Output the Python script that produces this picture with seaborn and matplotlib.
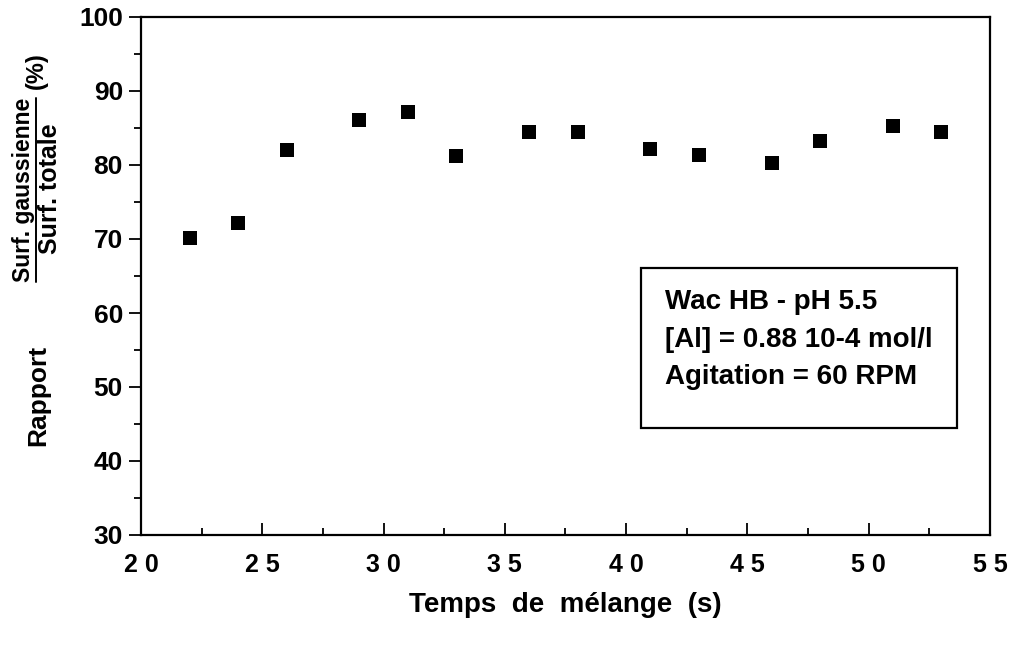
import matplotlib
matplotlib.use("Agg")
import matplotlib.pyplot as plt
import matplotlib.ticker as mticker
from matplotlib.lines import Line2D
from matplotlib.patches import Rectangle
import seaborn as sns
import pandas as pd

# --- Data ---
temps = [22, 24, 26, 29, 31, 33, 36, 38, 41, 43, 46, 48, 51, 53]
rapport = [70.2, 72.1, 82.0, 86.1, 87.1, 81.2, 84.4, 84.4, 82.2, 81.3, 80.3, 83.2, 85.3, 84.4]

df = pd.DataFrame({"Temps": temps, "Rapport": rapport})

sns.set_style("ticks")
plt.rcParams["font.family"] = ["Liberation Sans", "DejaVu Sans"]
plt.rcParams["font.weight"] = "bold"
for k in ["text.color", "axes.labelcolor", "xtick.color", "ytick.color", "axes.edgecolor"]:
    plt.rcParams[k] = "black"

W, H = 1012, 646
fig = plt.figure(figsize=(W / 100, H / 100), dpi=100)
ax = fig.add_axes([141 / W, 1 - 535 / H, (990 - 141) / W, (535 - 17) / H])

sns.scatterplot(data=df, x="Temps", y="Rapport", ax=ax, marker="s", s=95,
                color="black", linewidth=0, legend=False)

ax.set_xlim(20, 55)
ax.set_ylim(30, 100)
ax.xaxis.set_major_locator(mticker.MultipleLocator(5))
ax.xaxis.set_minor_locator(mticker.MultipleLocator(2.5))
ax.yaxis.set_major_locator(mticker.MultipleLocator(10))
ax.yaxis.set_minor_locator(mticker.MultipleLocator(5))
# spaced digits like the typewriter-style axis of the original
ax.xaxis.set_major_formatter(mticker.FuncFormatter(lambda v, p: " ".join(str(int(v)))))

for s in ax.spines.values():
    s.set_linewidth(1.6)
    s.set_color("black")

ax.tick_params(axis="x", which="major", direction="in", length=9, width=1.3,
               labelsize=18, pad=13)
ax.tick_params(axis="x", which="minor", direction="in", length=5, width=1.3)
ax.tick_params(axis="y", which="major", direction="out", length=9, width=1.3,
               labelsize=19, pad=4)
ax.tick_params(axis="y", which="minor", direction="out", length=5, width=1.3)
for lab in ax.get_xticklabels() + ax.get_yticklabels():
    lab.set_fontweight("bold")

ax.set_xlabel("")
ax.set_ylabel("")

# x label
fig.text(565 / W, 1 - 605 / H, "Temps  de  mélange  (s)", ha="center", va="center",
         fontsize=20, fontweight="bold")

# y label: Rapport  Surf. gaussienne / Surf. totale  (%)
fig.text(38 / W, 1 - 395 / H, "Rapport", rotation=90, ha="center", va="center",
         fontsize=19, fontweight="bold")
num = fig.text(24 / W, 1 - 190 / H, "Surf. gaussienne", rotation=90, ha="center",
               va="center", fontsize=16.5, fontweight="bold")
fig.text(50 / W, 1 - 189 / H, "Surf. totale", rotation=90, ha="center", va="center",
         fontsize=18, fontweight="bold")
fig.text(36 / W, 1 - 71 / H, "(%)", rotation=90, ha="center", va="center",
         fontsize=17, fontweight="bold")

fig.canvas.draw()
bb = num.get_window_extent()
fig.add_artist(Line2D([(bb.x1 + 1) / W] * 2, [bb.y0 / H, bb.y1 / H],
                      color="black", linewidth=1.4, transform=fig.transFigure))

# annotation box (frame drawn separately: the original has more room below the text)
ax.add_patch(Rectangle((0.589, 0.207), 0.372, 0.309, transform=ax.transAxes,
                       facecolor="white", edgecolor="black", linewidth=1.6, zorder=3))
ax.text(0.617, 0.475,
        "Wac HB - pH 5.5\n[Al] = 0.88 10-4 mol/l\nAgitation = 60 RPM",
        transform=ax.transAxes, ha="left", va="top", fontsize=20,
        fontweight="bold", linespacing=1.58, zorder=4)

fig.savefig("out.png", dpi=100)
